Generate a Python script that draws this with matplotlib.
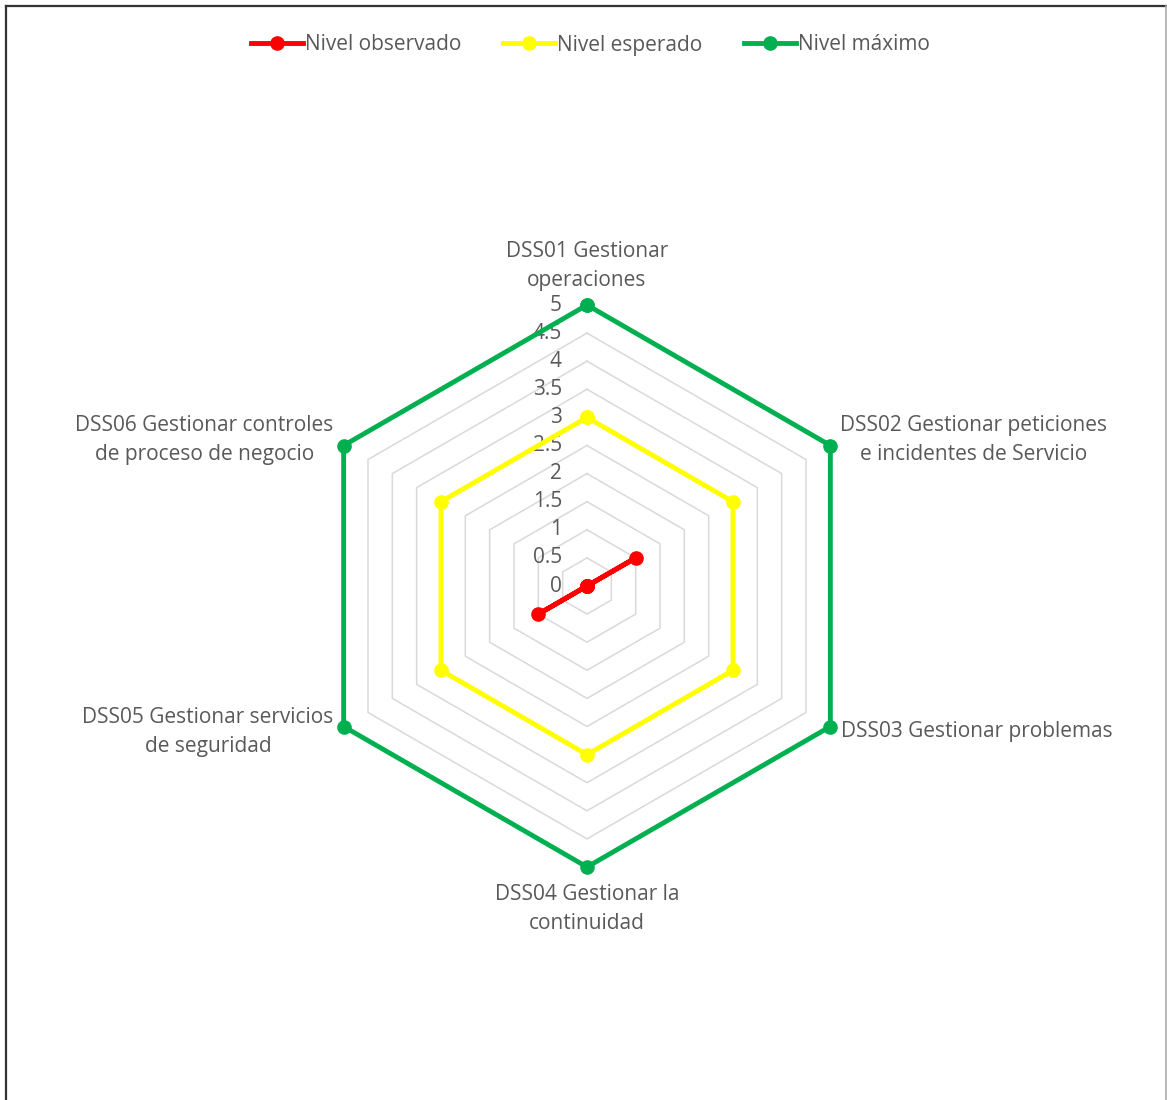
import matplotlib.pyplot as plt
import numpy as np
from matplotlib.lines import Line2D

plt.rcParams["font.family"] = ["Open Sans", "DejaVu Sans"]

categories = [
    "DSS01 Gestionar\noperaciones",
    "DSS02 Gestionar peticiones\ne incidentes de Servicio",
    "DSS03 Gestionar problemas",
    "DSS04 Gestionar la\ncontinuidad",
    "DSS05 Gestionar servicios\nde seguridad",
    "DSS06 Gestionar controles\nde proceso de negocio",
]
observado = [0, 1, 0, 0, 1, 0]
esperado = [3, 3, 3, 3, 3, 3]
maximo = [5, 5, 5, 5, 5, 5]
series_names = ["Nivel observado", "Nivel esperado", "Nivel máximo"]
series_colors = ["#ff0000", "#ffff00", "#00b050"]
ticks = [0, 0.5, 1, 1.5, 2, 2.5, 3, 3.5, 4, 4.5, 5]

text_color = "#595959"
grid_color = "#d9d9d9"
fs = 15

W, H = 1167, 1100
fig = plt.figure(figsize=(W / 100, H / 100), dpi=100)

# polar axes centred on the hexagon, radius 5 = 281 px
cx, cy, rad = 587, 586, 281
ax = fig.add_axes([(cx - rad) / W, 1 - (cy + rad) / H, 2 * rad / W, 2 * rad / H],
                  projection="polar")
ax.set_theta_zero_location("N")
ax.set_theta_direction(-1)
ax.set_ylim(0, 5)
ax.grid(False)
ax.set_xticks([])
ax.set_yticks([])
ax.spines["polar"].set_visible(False)
ax.patch.set_alpha(0)

n = len(categories)
angles = np.linspace(0, 2 * np.pi, n, endpoint=False)
closed = np.append(angles, angles[0])

# hexagonal gridlines
for t in ticks[1:]:
    ax.plot(closed, [t] * (n + 1), color=grid_color, lw=1.1, zorder=1)

# radial tick labels along the top spoke
for t in ticks:
    ax.annotate(f"{t:g}", xy=(0, t), xytext=(-25, 0), textcoords="offset pixels",
                ha="right", va="center", fontsize=fs, color=text_color, zorder=2)

for vals, name, col in zip([observado, esperado, maximo], series_names, series_colors):
    v = np.append(vals, vals[0])
    ax.plot(closed, v, color=col, lw=3.5, marker="o", markersize=9.5,
            label=name, zorder=3, clip_on=False)

# category labels around the outer vertices
label_pos = [
    ((0, 14), "center", "bottom"),
    ((10, 6), "left", "center"),
    ((11, -5), "left", "center"),
    ((0, -17), "center", "top"),
    ((-10, -5), "right", "center"),
    ((-10, 6), "right", "center"),
]
for ang, lab, (off, ha, va) in zip(angles, categories, label_pos):
    ax.annotate(lab, xy=(ang, 5), xytext=off, textcoords="offset pixels",
                ha=ha, va=va, multialignment="center", fontsize=fs,
                color=text_color, linespacing=1.5)

handles = [Line2D([0], [0], color=c, lw=3.5, marker="o", markersize=9.5)
           for c in series_colors]
fig.legend(handles, series_names, loc="center", bbox_to_anchor=(0.506, 1 - 45 / H),
           ncol=3, frameon=False, fontsize=fs, labelcolor=text_color,
           handlelength=2.5, handletextpad=0.1, columnspacing=2.0)

# chart border (top/left dark, right light)
fig.add_artist(Line2D([6 / W, 6 / W], [0, 1 - 6 / H], color="#333333", lw=1.6))
fig.add_artist(Line2D([6 / W, 1], [1 - 6 / H, 1 - 6 / H], color="#333333", lw=1.6))
fig.add_artist(Line2D([1166 / W, 1166 / W], [0, 1 - 6 / H], color="#aaaaaa", lw=1.2))

fig.savefig("out.png", dpi=100, facecolor="white")
